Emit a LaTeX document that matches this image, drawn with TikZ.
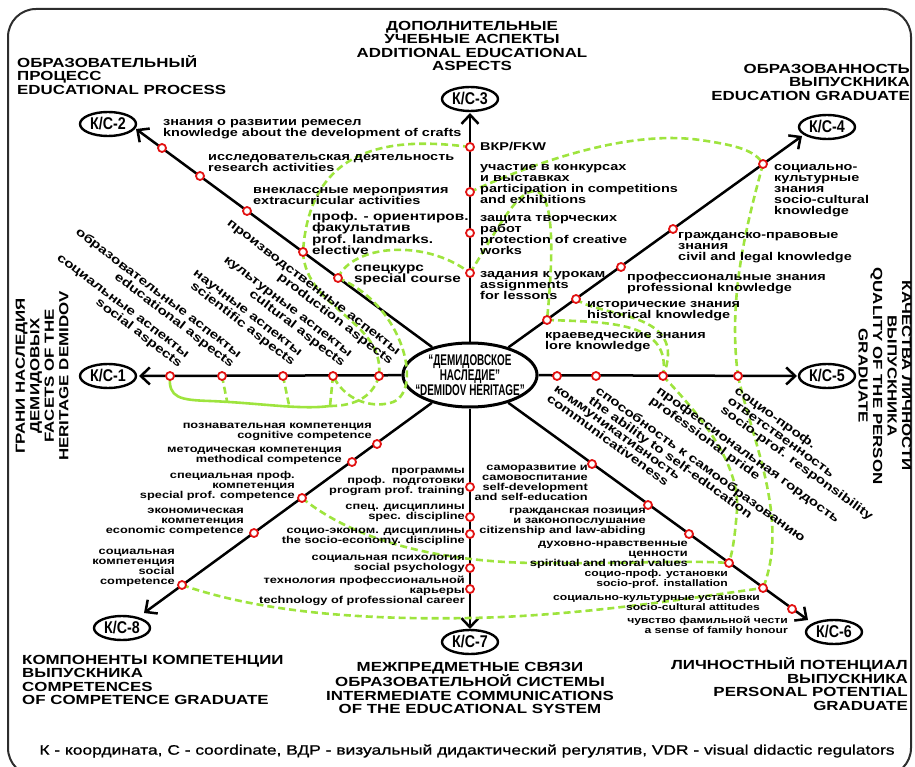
\documentclass[tikz,border=0pt]{standalone}
\usepackage{fontspec}
\setmainfont{Liberation Sans}
\newfontfamily\lf{Liberation Sans}[FakeStretch=1.28]
\newfontfamily\capf{Liberation Sans}[FakeStretch=1.27,FakeBold=1]
\newfontfamily\nf{Liberation Sans}[FakeStretch=0.64]
\newfontfamily\kf{Liberation Sans}[FakeStretch=0.84]
\usetikzlibrary{shapes.geometric,arrows.meta}
\definecolor{grn}{RGB}{158,228,62}
\definecolor{rdd}{RGB}{226,18,18}
\definecolor{frm}{RGB}{45,45,45}
\begin{document}
\begin{tikzpicture}[x=1pt,y=-1pt,
  lblU/.style={inner sep=0pt, font=\lf\bfseries\fontsize{11.3}{11}\selectfont},
  lblB/.style={inner sep=0pt, font=\lf\bfseries\fontsize{12}{11.5}\selectfont},
  lblD/.style={inner sep=0pt, font=\lf\bfseries\fontsize{10}{10}\selectfont},
  lblS/.style={inner sep=0pt, font=\lf\bfseries\fontsize{9.5}{9.2}\selectfont},
  rlbl/.style={inner sep=0pt, font=\lf\bfseries\fontsize{12}{12}\selectfont},
  ttl/.style={inner sep=0pt, font=\lf\bfseries\fontsize{13.2}{13.5}\selectfont},
  ttlv/.style={inner sep=0pt, font=\lf\bfseries\fontsize{13.2}{14.5}\selectfont},
  kc/.style={draw, ellipse, line width=2.4pt, minimum width=56pt, minimum height=24pt, inner sep=0pt, fill=white, font=\kf\bfseries\fontsize{17}{17}\selectfont},
  axis/.style={line width=2.5pt, -{Straight Barb[length=9pt,width=17pt]}},
  dot/.style={circle, draw=rdd, fill=white, line width=1.8pt, minimum size=8pt, inner sep=0pt},
  gd/.style={draw=grn, line width=2.6pt, dash pattern=on 7pt off 4pt},
  gs/.style={draw=grn, line width=2.6pt},
]
\useasboundingbox (0,0) rectangle (915,767);
\draw[frm, line width=2pt, rounded corners=28pt] (8,9) rectangle (911,776);

% coordinate nodes
\node[kc] (k1) at (108,376) {К/С-1};
\node[kc] (k2) at (108,124) {К/С-2};
\node[kc] (k3) at (470,99) {К/С-3};
\node[kc] (k4) at (827,127) {К/С-4};
\node[kc] (k5) at (827,376) {К/С-5};
\node[kc] (k6) at (834,632) {К/С-6};
\node[kc] (k7) at (470,642) {К/С-7};
\node[kc] (k8) at (122,628) {К/С-8};

\node[draw, ellipse, line width=3pt, minimum width=134pt, minimum height=64pt, inner sep=0pt, fill=white] (c) at (470,375) {};
\node[inner sep=0pt, align=center, font=\nf\bfseries\fontsize{15.5}{15}\selectfont] (ct) at (c.center) {“ДЕМИДОВСКОЕ\\НАСЛЕДИЕ”\\“DEMIDOV HERITAGE”};

% arrow tips
\coordinate (t1) at (139,376);
\coordinate (t2) at (136,129);
\coordinate (t3) at (470,113);
\coordinate (t4) at (802,136);
\coordinate (t5) at (797,376);
\coordinate (t6) at (808,620);
\coordinate (t7) at (470,629);
\coordinate (t8) at (144,613);
\foreach \i in {1,...,8} {\draw[axis] (c) -- (t\i);}

% dot positions
\coordinate (ptl1) at (162,148); \coordinate (ptl2) at (200,176); \coordinate (ptl3) at (247,211);
\coordinate (ptl4) at (303,252); \coordinate (ptl5) at (338,278);
\coordinate (ptr1) at (547,320); \coordinate (ptr2) at (576,299); \coordinate (ptr3) at (621,267);
\coordinate (ptr4) at (673,229); \coordinate (ptr5) at (763,164);
\coordinate (pbl1) at (377,444); \coordinate (pbl2) at (352,462); \coordinate (pbl3) at (302,498);
\coordinate (pbl4) at (254,533); \coordinate (pbl5) at (182,585);
\coordinate (pbr1) at (592,464); \coordinate (pbr2) at (648,505); \coordinate (pbr3) at (689,534);
\coordinate (pbr4) at (729,563); \coordinate (pbr5) at (763,588); \coordinate (pbr6) at (792,609);
\coordinate (pvt1) at (470,147); \coordinate (pvt2) at (470,192); \coordinate (pvt3) at (470,233); \coordinate (pvt4) at (470,273);
\coordinate (pvb1) at (470,487); \coordinate (pvb2) at (470,517); \coordinate (pvb3) at (470,534); \coordinate (pvb4) at (470,568); \coordinate (pvb5) at (470,589);
\coordinate (pl1) at (170,376); \coordinate (pl2) at (222,376); \coordinate (pl3) at (283,376); \coordinate (pl4) at (333,376); \coordinate (pl5) at (379,376);
\coordinate (pr1) at (557,376); \coordinate (pr2) at (596,376); \coordinate (pr3) at (663,376); \coordinate (pr4) at (738,376);
\coordinate (gj) at (330,406);
\coordinate (gj2) at (227,401);
\coordinate (gj3) at (289,405);

% green links
\draw[gd] (pvt1) .. controls (400,138) and (310,140) .. (ptl4);
\draw[gd] (ptl4) .. controls (306,310) and (385,320) .. (pl5);
\draw[gd] (pl5) .. controls (372,400) and (350,406) .. (gj);
\draw[gd] (ptl5) .. controls (405,305) and (425,395) .. (390,403) .. controls (370,408) and (345,400) .. (pl4);
\draw[gd] (pl4) -- (gj);
\draw[gd] (pl2) -- (gj2);
\draw[gd] (pl3) -- (gj3);
\draw[gs] (pl1) .. controls (168,398) and (180,400) .. (210,401) .. controls (260,403) and (300,410) .. (gj);
\draw[gd] (ptl5) .. controls (352,245) and (425,238) .. (pvt4);
\draw[gd] (pvt4) .. controls (500,225) and (520,185) .. (538,192) .. controls (556,200) and (552,270) .. (ptr1);
\draw[gd] (pvt2) .. controls (540,160) and (630,130) .. (700,140) .. controls (735,145) and (755,150) .. (ptr5);
\draw[gd] (ptr5) .. controls (745,230) and (728,300) .. (pr4);
\draw[gd] (pr4) .. controls (752,440) and (790,520) .. (pbr5);
\draw[gd] (pbl5) .. controls (260,612) and (360,620) .. (470,618) .. controls (580,616) and (690,598) .. (pbr5);
\draw[gd] (pbl3) .. controls (360,545) and (450,562) .. (535,563) .. controls (620,564) and (690,560) .. (pbr4);
\draw[gd] (pr3) .. controls (695,410) and (740,460) .. (737,510) .. controls (735,535) and (733,550) .. (pbr4);
\draw[gd] (ptr1) .. controls (610,322) and (672,322) .. (pr3);
\draw[gd] (ptr2) .. controls (600,318) and (690,310) .. (pr3);

% titles
\node[ttl, anchor=north west, align=left] (tt2) at (17,55) {ОБРАЗОВАТЕЛЬНЫЙ\\ПРОЦЕСС\\EDUCATIONAL PROCESS};
\node[ttl, align=center] (tt3) at (472,46) {ДОПОЛНИТЕЛЬНЫЕ\\УЧЕБНЫЕ АСПЕКТЫ\\ADDITIONAL EDUCATIONAL\\ASPECTS};
\node[ttl, anchor=east, align=right] (tt4) at (910,82) {ОБРАЗОВАННОСТЬ\\ВЫПУСКНИКА\\EDUCATION GRADUATE};
\node[ttlv, rotate=-90, align=center] (tt5) at (885,376) {КАЧЕСТВА ЛИЧНОСТИ\\ВЫПУСКНИКА\\QUALITY OF THE PERSON\\GRADUATE};
\node[ttl, anchor=east, align=right] (tt6) at (908,684) {ЛИЧНОСТНЫЙ ПОТЕНЦИАЛ\\ВЫПУСКНИКА\\PERSONAL POTENTIAL\\GRADUATE};
\node[ttl, align=center] (tt7) at (470,688) {МЕЖПРЕДМЕТНЫЕ СВЯЗИ\\ОБРАЗОВАТЕЛЬНОЙ СИСТЕМЫ\\INTERMEDIATE COMMUNICATIONS\\OF THE EDUCATIONAL SYSTEM};
\node[ttl, anchor=west, align=left] (tt8) at (22,680) {КОМПОНЕНТЫ КОМПЕТЕНЦИИ\\ВЫПУСКНИКА\\COMPETENCES\\OF COMPETENCE GRADUATE};
\node[ttlv, rotate=90, align=center] (tt1) at (42,376) {ГРАНИ НАСЛЕДИЯ\\ДЕМИДОВЫХ\\FACETS OF THE\\HERITAGE DEMIDOV};
\node[inner sep=0pt, font=\capf\fontsize{13.7}{14}\selectfont] (cap) at (467,751) {К - координата, С - coordinate, ВДР - визуальный дидактический регулятив, VDR - visual didactic regulators};

% top-left labels
\node[lblU, anchor=west, align=left] (a1) at (163,129) {знания о развитии ремесел\\knowledge about the development of crafts};
\node[lblU, anchor=west, align=left] (a2) at (208,163) {исследовательская\ деятельность\\research activities};
\node[lblU, anchor=west, align=left] (a3) at (253,196) {внеклассные мероприятия\\extracurricular activities};
\node[lblB, anchor=west, align=left] (a4) at (312,233) {проф. - ориентиров.\\факультатив\\prof. landmarks.\\elective};
\node[lblB, anchor=west, align=left] (a5) at (354,275) {спецкурс\\special course};
% top vertical labels
\node[lblU, anchor=west, align=left] (b1) at (480,147) {ВКР/FKW};
\node[lblU, anchor=west, align=left] (b2) at (480,184) {участие в конкурсах\\и выставках\\participation in competitions\\and exhibitions};
\node[lblU, anchor=west, align=left] (b3) at (480,235) {защита творческих\\работ\\protection of creative\\works};
\node[lblU, anchor=west, align=left] (b4) at (480,286) {задания к урокам\\assignments\\for lessons};
% top-right labels
\node[lblU, anchor=west, align=left] (d1) at (774,191) {социально-\\культурные\\знания\\socio-cultural\\knowledge};
\node[lblU, anchor=west, align=left] (d2) at (678,248) {гражданско-правовые\\знания\\civil and legal knowledge};
\node[lblU, anchor=west, align=left] (d3) at (627,283) {профессиональные знания\\professional knowledge};
\node[lblU, anchor=west, align=left] (d4) at (587,311) {исторические знания\\historical knowledge};
\node[lblU, anchor=west, align=left] (d5) at (545,342) {краеведческие знания\\lore knowledge};
% left rotated labels
\node[rlbl, rotate=-37.5, anchor=south east, align=right] (e1) at (177,370) {социальные аспекты\\social aspects};
\node[rlbl, rotate=-37.5, anchor=south east, align=right] (e2) at (229,370) {образовательные аспекты\\educational aspects};
\node[rlbl, rotate=-37.5, anchor=south east, align=right] (e3) at (290,368) {научные аспекты\\scientific aspects};
\node[rlbl, rotate=-37.5, anchor=south east, align=right] (e4) at (340,369) {культурные аспекты\\cultural aspects};
\node[rlbl, rotate=-37.5, anchor=south east, align=right] (e5) at (388,367) {производственные аспекты\\production aspects};
% right rotated labels
\node[rlbl, rotate=-36, anchor=north west, align=left] (f1) at (557,385) {коммуникативность\\communicativeness};
\node[rlbl, rotate=-36, anchor=north west, align=left] (f2) at (600,385) {способность к самообразованию\\the ability to self-education};
\node[rlbl, rotate=-36, anchor=north west, align=left] (f3) at (661,385) {профессиональная гордость\\professional pride};
\node[rlbl, rotate=-36, anchor=north west, align=left] (f4) at (739,385) {социо-проф.\\ответственность\\socio-prof. responsibility};
% bottom-left labels
\node[lblD, anchor=east, align=right] (g1) at (372,432) {познавательная компетенция\\cognitive competence};
\node[lblD, anchor=east, align=right] (g2) at (342,456) {методическая компетенция\\methodical competence};
\node[lblD, anchor=east, align=right] (g3) at (295,486) {специальная проф.\\компетенция\\special prof. competence};
\node[lblD, anchor=east, align=right] (g4) at (244,522) {экономическая\\компетенция\\economic competence};
\node[lblD, anchor=east, align=right] (g5) at (175,568) {социальная\\компетенция\\social\\competence};
% bottom vertical labels
\node[lblD, anchor=east, align=right] (h1) at (465,482) {программы\\проф.\ \ подготовки\\program prof. training};
\node[lblD, anchor=east, align=right] (h2) at (465,513) {спец. дисциплины\\spec. discipline};
\node[lblD, anchor=east, align=right] (h3) at (465,537) {социо-эконом. дисциплины\\the socio-economy. discipline};
\node[lblD, anchor=east, align=right] (h4) at (465,564) {социальная психология\\social psychology};
\node[lblD, anchor=east, align=right] (h5) at (465,591) {технология профессиональной\\карьеры\\technology of professional career};
% bottom-right labels
\node[lblD, anchor=east, align=right] (m1) at (588,483) {саморазвитие и\\самовоспитание\\self-development\\and self-education};
\node[lblD, anchor=east, align=right] (m2) at (646,522) {гражданская позиция\\и законопослушание\\citizenship and law-abiding};
\node[lblD, anchor=east, align=right] (m3) at (688,555) {духовно-нравственные\\ценности\\spiritual and moral values};
\node[lblS, anchor=east, align=right] (m4) at (728,579) {социо-проф. установки\\socio-prof. installation};
\node[lblS, anchor=east, align=right] (m5) at (760,603) {социально-культурные установки\\socio-cultural attitudes};
\node[lblS, anchor=east, align=right] (m6) at (788,626) {чувство фамильной чести\\a sense of family honour};

% dots
\foreach \n in {tl1,tl2,tl3,tl4,tl5,tr1,tr2,tr3,tr4,tr5,bl1,bl2,bl3,bl4,bl5,br1,br2,br3,br4,br5,br6,vt1,vt2,vt3,vt4,vb1,vb2,vb3,vb4,vb5,l1,l2,l3,l4,l5,r1,r2,r3,r4}
  {\node[dot] (\n) at (p\n) {};}
\end{tikzpicture}
\end{document}
